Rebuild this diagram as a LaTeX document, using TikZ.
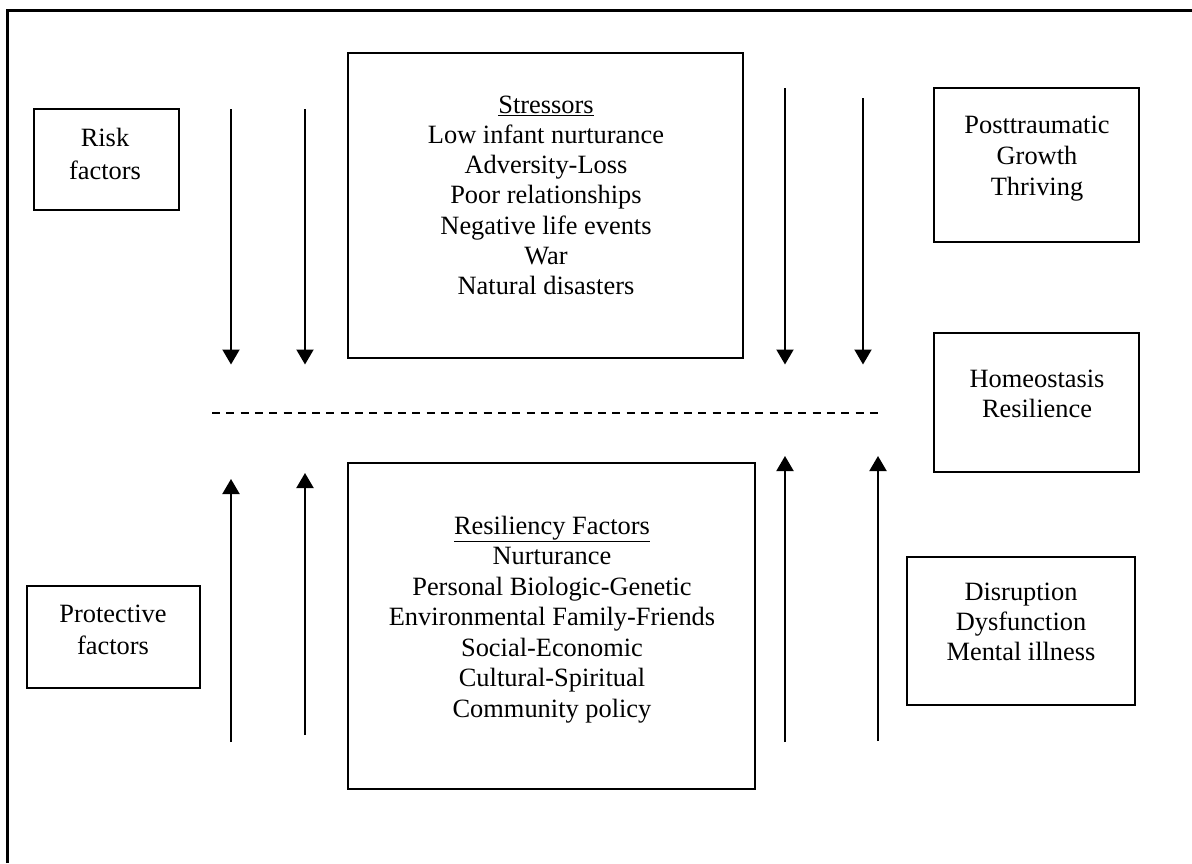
\documentclass[tikz,border=0pt]{standalone}
\usepackage{fontspec}
\setmainfont{Liberation Serif}
\usetikzlibrary{arrows.meta}
\tikzset{
  x=1pt, y=-1pt,
  box/.style={draw, line width=2.8pt, inner sep=0pt},
  txt/.style={align=center, inner sep=0pt, font=\fontsize{26.4}{#1}\selectfont},
  txt/.default=30.5,
  flow/.style={line width=2pt, -{Triangle[length=15pt,width=17pt]}},
  divider/.style={line width=1.5pt, dash pattern=on 8pt off 6.3pt},
  frame/.style={line width=3pt}
}
\begin{document}
\begin{tikzpicture}
\useasboundingbox (0,0) rectangle (1192,863);
% outer frame (left and top edges only)
\coordinate (f1) at (7,863);
\coordinate (f2) at (7,10);
\coordinate (f3) at (1192,10);
\draw[frame] (f1) -- (f2) -- (f3);

% boxes
\node[box, minimum width=145pt, minimum height=101pt] (risk) at (106.5,159.5) {};
\node[box, minimum width=173pt, minimum height=102pt] (prot) at (113.5,637) {};
\node[box, minimum width=395pt, minimum height=305pt] (stress) at (545.5,205.5) {};
\node[box, minimum width=407pt, minimum height=326pt] (resil) at (551.5,626) {};
\node[box, minimum width=205pt, minimum height=154pt] (ptg) at (1036.5,165) {};
\node[box, minimum width=205pt, minimum height=139pt] (homeo) at (1036.5,402.5) {};
\node[box, minimum width=228pt, minimum height=148pt] (disr) at (1021,631) {};

% texts
\node[txt=33] (risktxt) at (105,155.9) {\strut Risk\\factors\strut};
\node[txt=32] (prottxt) at (113,631.6) {\strut Protective\\factors\strut};
\node[txt=30.3] (stresstxt) at (546,197.9) {\strut\underline{Stressors}\\Low infant nurturance\\Adversity-Loss\\Poor relationships\\Negative life events\\War\\Natural disasters\strut};
\node[txt=30.5] (resiltxt) at (552,619.4) {\strut\underline{Resiliency Factors}\\Nurturance\\Personal Biologic-Genetic\\Environmental Family-Friends\\Social-Economic\\ Cultural-Spiritual\\Community policy\strut};
\node[txt=31] (ptgtxt) at (1037,157.8) {\strut Posttraumatic\\Growth\\Thriving\strut};
\node[txt=30] (homeotxt) at (1037,396) {\strut Homeostasis\\Resilience\strut};
\node[txt=30] (disrtxt) at (1021,624) {\strut Disruption\\Dysfunction\\Mental illness\strut};

% arrow end points
\coordinate (a1s) at (231,109);  \coordinate (a1e) at (231,364.5);
\coordinate (a2s) at (305,109);  \coordinate (a2e) at (305,364.5);
\coordinate (a3s) at (785,88);   \coordinate (a3e) at (785,364.5);
\coordinate (a4s) at (863,98);   \coordinate (a4e) at (863,364.5);
\coordinate (b1s) at (231,742);  \coordinate (b1e) at (231,479);
\coordinate (b2s) at (305,735);  \coordinate (b2e) at (305,473);
\coordinate (b3s) at (785,742);  \coordinate (b3e) at (785,456);
\coordinate (b4s) at (878,741);  \coordinate (b4e) at (878,456);
\draw[flow] (a1s) -- (a1e);
\draw[flow] (a2s) -- (a2e);
\draw[flow] (a3s) -- (a3e);
\draw[flow] (a4s) -- (a4e);
\draw[flow] (b1s) -- (b1e);
\draw[flow] (b2s) -- (b2e);
\draw[flow] (b3s) -- (b3e);
\draw[flow] (b4s) -- (b4e);

% dashed divider
\coordinate (d1) at (212,413);
\coordinate (d2) at (878,413);
\draw[divider] (d1) -- (d2);
\end{tikzpicture}
\end{document}
